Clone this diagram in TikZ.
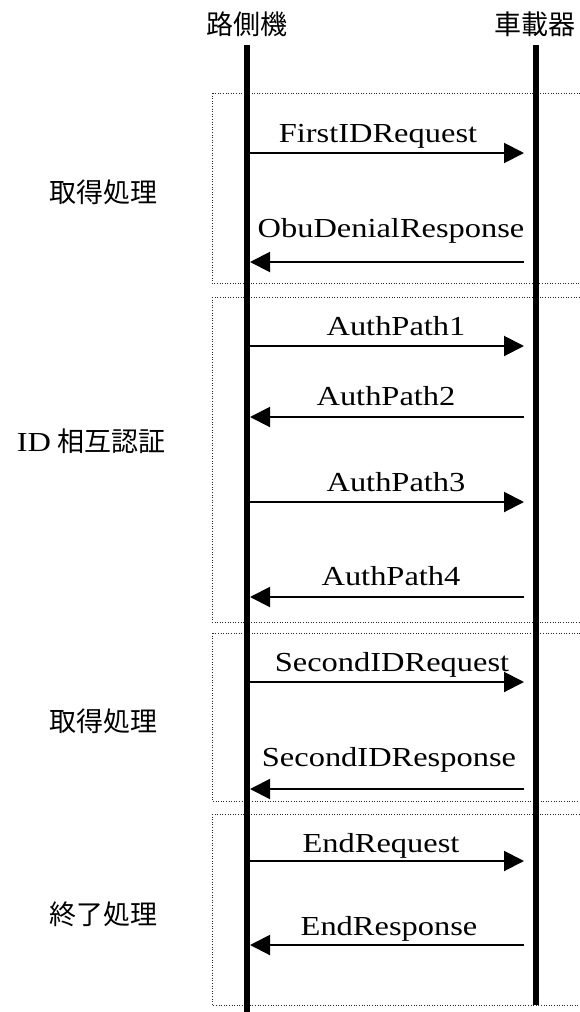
\documentclass[tikz,border=0pt]{standalone}
\usepackage{fontspec}
\newfontfamily\cjk{Noto Sans CJK JP}
\newfontfamily\lab{Liberation Serif}[FakeStretch=1.18]
\usetikzlibrary{arrows.meta}
\begin{document}
\begin{tikzpicture}[x=1pt,y=-1pt,
  lifeline/.style={line width=6pt},
  phase/.style={draw=black!85, line width=1pt, dash pattern=on 1pt off 1.6pt},
  msg/.style={line width=2pt, -{Triangle[length=20pt,width=20pt]}},
  msglabel/.style={font=\lab\fontsize{27.5}{27.5}\selectfont, anchor=base, inner sep=0pt},
  head/.style={font=\cjk\fontsize{27}{27}\selectfont, inner sep=0pt},
  phaselabel/.style={font=\cjk\fontsize{27}{27}\selectfont, inner sep=0pt}]
\useasboundingbox[fill=white] (0,0) rectangle (580,1012);
% phase boxes
\draw[phase] (212,93) rectangle (600,283);
\draw[phase] (212,297) rectangle (600,622);
\draw[phase] (212,633) rectangle (600,801);
\draw[phase] (212,814) rectangle (600,1005);
% headers
\node[head] (rsu) at (247,24) {路側機};
\node[head] (obu) at (535,24) {車載器};
% lifelines
\coordinate (rsuTop) at (247,45);
\coordinate (rsuBot) at (247,1014);
\coordinate (obuTop) at (536,45);
\coordinate (obuBot) at (536,1005);
\draw[lifeline] (rsuTop) -- (rsuBot);
\draw[lifeline] (obuTop) -- (obuBot);
% phase labels
\node[phaselabel] (p1) at (103,192) {取得処理};
\node[phaselabel] (p2) at (91,441) {{\lab\fontsize{27.5}{27.5}\selectfont ID} 相互認証};
\node[phaselabel] (p3) at (103,721) {取得処理};
\node[phaselabel] (p4) at (103,914) {終了処理};
% message end points
\foreach \n/\y in {1/153,2/262,3/346,4/417,5/502,6/597,7/682,8/789,9/861,10/945}{
  \coordinate (a\n) at (250,\y);
  \coordinate (b\n) at (524,\y);
}
\draw[msg] (a1) -- (b1);
\draw[msg] (b2) -- (a2);
\draw[msg] (a3) -- (b3);
\draw[msg] (b4) -- (a4);
\draw[msg] (a5) -- (b5);
\draw[msg] (b6) -- (a6);
\draw[msg] (a7) -- (b7);
\draw[msg] (b8) -- (a8);
\draw[msg] (a9) -- (b9);
\draw[msg] (b10) -- (a10);
% labels
\node[msglabel] (m1) at (378,142) {FirstIDRequest};
\node[msglabel] (m2) at (391,237) {ObuDenialResponse};
\node[msglabel] (m3) at (396,335) {AuthPath1};
\node[msglabel] (m4) at (386,405) {AuthPath2};
\node[msglabel] (m5) at (396,491) {AuthPath3};
\node[msglabel] (m6) at (391,585) {AuthPath4};
\node[msglabel] (m7) at (392,671) {SecondIDRequest};
\node[msglabel] (m8) at (389,766) {SecondIDResponse};
\node[msglabel] (m9) at (381,852) {EndRequest};
\node[msglabel] (m10) at (389,935) {EndResponse};
\end{tikzpicture}
\end{document}
